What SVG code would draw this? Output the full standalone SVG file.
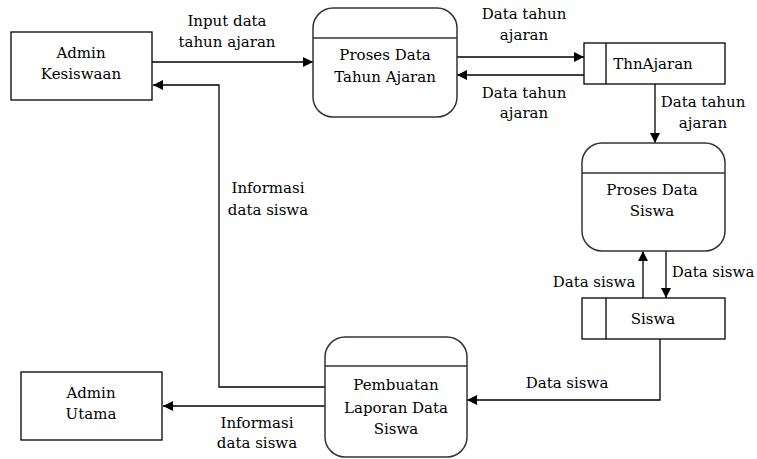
<svg xmlns="http://www.w3.org/2000/svg" width="757" height="459" viewBox="0 0 757 459">
<defs>
<marker id="ah" viewBox="0 0 10 10" refX="10" refY="5" markerWidth="10" markerHeight="10" markerUnits="userSpaceOnUse" orient="auto">
<path d="M0,0 L10,5 L0,10 z" fill="#000"/>
</marker>
<style>
text{font-family:"DejaVu Serif",serif;font-size:15px;fill:#000;text-anchor:middle}
.box{fill:#fff;stroke:#000;stroke-width:1.3}
.proc{fill:#fff;stroke:#333;stroke-width:1.5}
.ar{fill:none;stroke:#000;stroke-width:1.3;marker-end:url(#ah)}
</style>
</defs>
<rect width="757" height="459" fill="#fff"/>
<g id="connectors">
<line class="ar" x1="152" y1="62" x2="313" y2="62"/>
<polyline class="ar" points="325,387 219,387 219,85 153,85"/>
<line class="ar" x1="457" y1="57" x2="584" y2="57"/>
<line class="ar" x1="584" y1="75" x2="457" y2="75"/>
<line class="ar" x1="655" y1="84" x2="655" y2="143"/>
<line class="ar" x1="643" y1="298" x2="643" y2="251"/>
<line class="ar" x1="666" y1="251" x2="666" y2="298"/>
<polyline class="ar" points="660,339 660,400 467,400"/>
<line class="ar" x1="325" y1="406" x2="163" y2="406"/>
<text x="227" y="26">Input data</text>
<text x="227" y="47">tahun ajaran</text>
<text x="524" y="19">Data tahun</text>
<text x="524" y="40">ajaran</text>
<text x="524" y="98">Data tahun</text>
<text x="524" y="118">ajaran</text>
<text x="703" y="107">Data tahun</text>
<text x="703" y="128">ajaran</text>
<text x="268" y="193">Informasi</text>
<text x="268" y="215">data siswa</text>
<text x="594" y="287">Data siswa</text>
<text x="713" y="277">Data siswa</text>
<text x="567" y="388">Data siswa</text>
<text x="257" y="428">Informasi</text>
<text x="257" y="448">data siswa</text>
</g>
<g id="admin-kesiswaan">
<rect class="box" x="11" y="32" width="141" height="68"/>
<text x="81" y="58">Admin</text>
<text x="81" y="79">Kesiswaan</text>
</g>
<g id="proses-tahun-ajaran">
<rect class="proc" x="313" y="8" width="144" height="109" rx="20" ry="20"/>
<line class="proc" x1="313" y1="38" x2="457" y2="38"/>
<text x="385" y="60">Proses Data</text>
<text x="385" y="82">Tahun Ajaran</text>
</g>
<g id="thnajaran">
<rect class="box" x="584" y="43" width="141" height="41"/>
<line class="box" x1="606" y1="43" x2="606" y2="84"/>
<text x="653" y="69">ThnAjaran</text>
</g>
<g id="proses-siswa">
<rect class="proc" x="582" y="143" width="143" height="108" rx="20" ry="20"/>
<line class="proc" x1="582" y1="173" x2="725" y2="173"/>
<text x="652" y="195">Proses Data</text>
<text x="652" y="216">Siswa</text>
</g>
<g id="siswa">
<rect class="box" x="582" y="298" width="143" height="41"/>
<line class="box" x1="606" y1="298" x2="606" y2="339"/>
<text x="653" y="324">Siswa</text>
</g>
<g id="pembuatan-laporan">
<rect class="proc" x="325" y="337" width="142" height="120" rx="20" ry="20"/>
<line class="proc" x1="325" y1="366" x2="467" y2="366"/>
<text x="396" y="390">Pembuatan</text>
<text x="396" y="413">Laporan Data</text>
<text x="396" y="434">Siswa</text>
</g>
<g id="admin-utama">
<rect class="box" x="21" y="372" width="141" height="68"/>
<text x="91" y="398">Admin</text>
<text x="91" y="419">Utama</text>
</g>
</svg>
